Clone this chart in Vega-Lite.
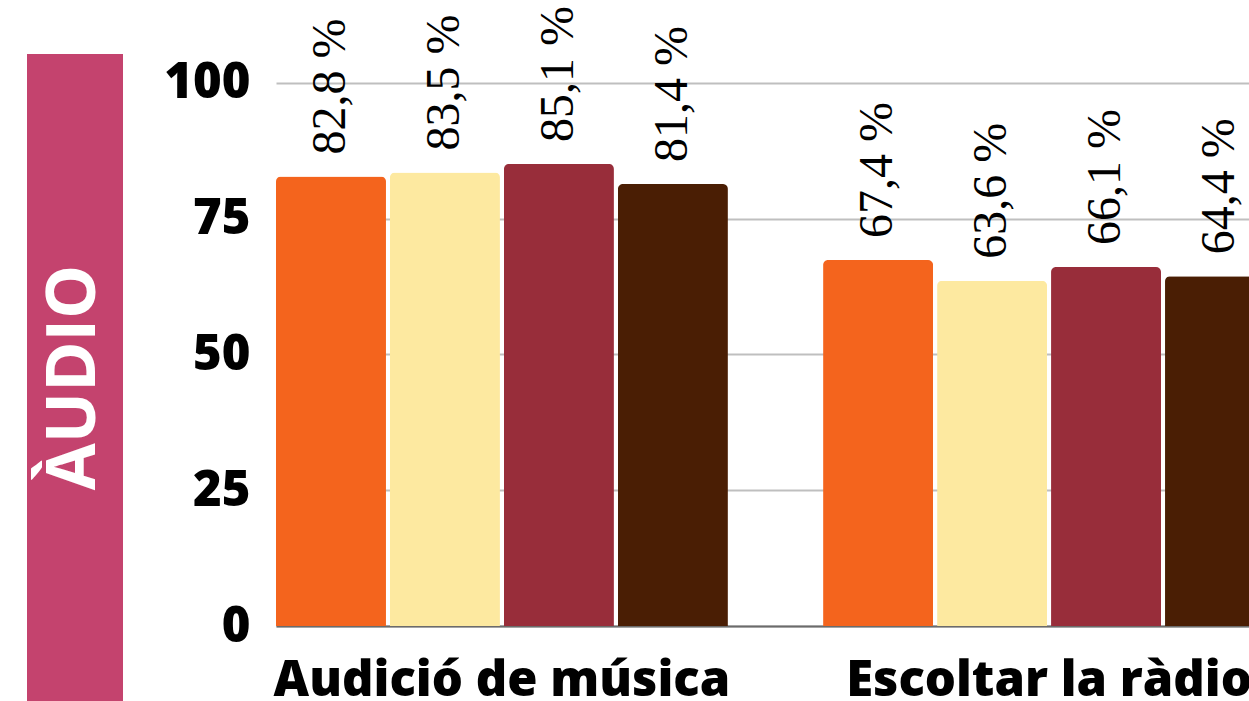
{
  "$schema": "https://vega.github.io/schema/vega-lite/v6.json",
  "padding": {"left": 27, "top": 5, "right": 0, "bottom": 0},
  "background": "white",
  "bounds": "flush",
  "spacing": 153,
  "config": {"view": {"stroke": null}},
  "hconcat": [
    {
      "width": 96,
      "height": 647,
      "view": {"fill": "#C4436E", "stroke": null},
      "data": {"values": [{"label": "ÀUDIO"}]},
      "mark": {"type": "text", "angle": 270, "color": "white", "font": "Open Sans", "fontSize": 68, "fontWeight": 700, "align": "center", "baseline": "middle"},
      "encoding": {"text": {"field": "label"}}
    },
    {
      "width": 973,
      "height": 572,
      "data": {
        "values": [
          {"activitat": "Audició de música", "serie": "Sèrie 1", "valor": 82.8, "etiqueta": "82,8 %"},
          {"activitat": "Audició de música", "serie": "Sèrie 2", "valor": 83.5, "etiqueta": "83,5 %"},
          {"activitat": "Audició de música", "serie": "Sèrie 3", "valor": 85.1, "etiqueta": "85,1 %"},
          {"activitat": "Audició de música", "serie": "Sèrie 4", "valor": 81.4, "etiqueta": "81,4 %"},
          {"activitat": "Escoltar la ràdio", "serie": "Sèrie 1", "valor": 67.4, "etiqueta": "67,4 %"},
          {"activitat": "Escoltar la ràdio", "serie": "Sèrie 2", "valor": 63.6, "etiqueta": "63,6 %"},
          {"activitat": "Escoltar la ràdio", "serie": "Sèrie 3", "valor": 66.1, "etiqueta": "66,1 %"},
          {"activitat": "Escoltar la ràdio", "serie": "Sèrie 4", "valor": 64.4, "etiqueta": "64,4 %"}
        ]
      },
      "encoding": {
        "x": {
          "field": "activitat", "type": "nominal", "sort": null, "title": null,
          "scale": {"range": [0, 999], "paddingInner": 0.174, "paddingOuter": 0},
          "axis": {"labelAngle": 0, "labelFont": "Open Sans", "labelFontSize": 49, "labelFontWeight": 800, "labelColor": "black", "labelBaseline": "alphabetic", "labelPadding": 69, "labelLimit": 0, "ticks": false, "tickSize": 0, "domainColor": "#6b6b6b", "domainWidth": 2, "grid": false}
        },
        "xOffset": {"field": "serie", "type": "nominal", "sort": null, "scale": {"paddingInner": 0.035, "paddingOuter": 0}},
        "y": {
          "field": "valor", "type": "quantitative", "title": null,
          "scale": {"domain": [0, 105.34], "nice": false, "zero": true},
          "axis": {"values": [0, 25, 50, 75, 100], "labelFont": "Open Sans", "labelFontSize": 49, "labelFontWeight": 800, "labelColor": "black", "labelPadding": 26, "ticks": false, "tickSize": 0, "domain": false, "gridColor": "#bfbfbf", "gridWidth": 2}
        }
      },
      "layer": [
        {
          "mark": {"type": "bar", "cornerRadiusTopLeft": 5, "cornerRadiusTopRight": 5},
          "encoding": {
            "color": {"field": "serie", "type": "nominal", "legend": null,
              "scale": {"domain": ["Sèrie 1", "Sèrie 2", "Sèrie 3", "Sèrie 4"], "range": ["#F4641D", "#FDE9A0", "#982D3A", "#4A1E04"]}}
          }
        },
        {
          "mark": {"type": "text", "angle": 270, "align": "left", "baseline": "middle", "dx": 22, "font": "Liberation Sans Narrow", "fontSize": 48, "color": "black"},
          "encoding": {"text": {"field": "etiqueta"}}
        }
      ]
    }
  ]
}
